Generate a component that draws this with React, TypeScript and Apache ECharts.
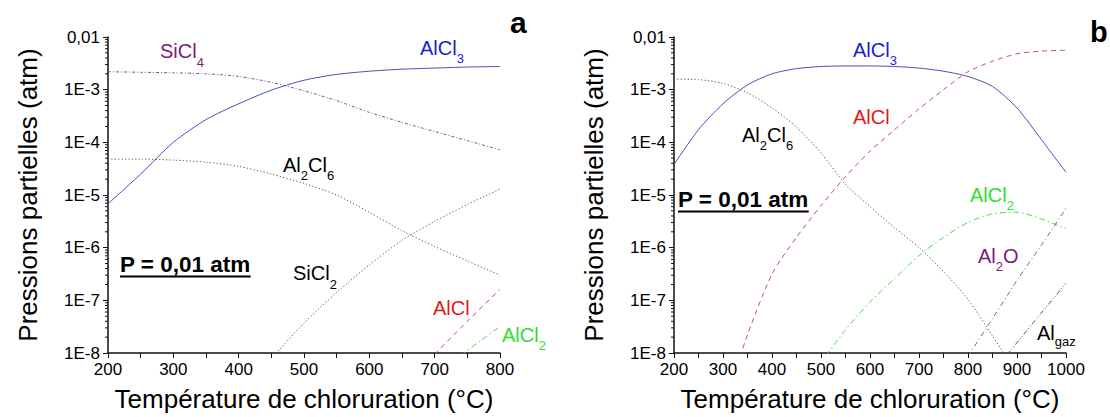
import React, { useEffect, useRef } from "react";
import * as echarts from "echarts";

const FONT = "'Liberation Sans', Arial, Helvetica, sans-serif";

// ---------- Panel a (200–800 °C) ----------
const tempsA = [200, 250, 300, 350, 400, 450, 500, 550, 600, 650, 700, 750, 800];
const alcl3A = [6.8e-6, 2.5e-5, 1.0e-4, 2.7e-4, 5.4e-4, 9.8e-4, 1.51e-3, 1.95e-3, 2.24e-3, 2.45e-3, 2.57e-3, 2.69e-3, 2.75e-3];
const sicl4A = [2.19e-3, 2.14e-3, 2.09e-3, 2.0e-3, 1.78e-3, 1.38e-3, 9.5e-4, 6.2e-4, 3.7e-4, 2.4e-4, 1.6e-4, 1.08e-4, 7.2e-5];
const al2cl6A = [4.8e-5, 4.8e-5, 4.6e-5, 4.2e-5, 3.5e-5, 2.5e-5, 1.66e-5, 1.0e-5, 4.7e-6, 2.1e-6, 1.05e-6, 5.6e-7, 3.0e-7];
const tempsSiCl2A = [450, 500, 550, 600, 650, 700, 750, 800];
const sicl2A = [7.8e-9, 3.7e-8, 1.41e-7, 4.7e-7, 1.38e-6, 3.16e-6, 6.6e-6, 1.29e-5];
const tempsAlClA = [700, 750, 800];
const alclA = [9.5e-9, 4.0e-8, 1.62e-7];
const tempsAlCl2A = [740, 770, 800];
const alcl2A = [8.9e-9, 1.7e-8, 3.2e-8];

// ---------- Panel b (200–1000 °C) ----------
const tempsB = [200, 250, 300, 350, 400, 450, 500, 550, 600, 650, 700, 750, 800, 850, 900, 950, 1000];
const alcl3B = [3.8e-5, 1.74e-4, 5.4e-4, 1.23e-3, 2.0e-3, 2.51e-3, 2.75e-3, 2.82e-3, 2.82e-3, 2.75e-3, 2.57e-3, 2.24e-3, 1.78e-3, 1.15e-3, 4.5e-4, 1.12e-4, 2.7e-5];
const tempsAl2Cl6B = [200, 250, 300, 350, 400, 450, 500, 550, 600, 650, 700, 750, 800, 850, 900];
const al2cl6B = [1.58e-3, 1.55e-3, 1.32e-3, 8.7e-4, 4.5e-4, 1.95e-4, 6.3e-5, 1.6e-5, 6.0e-6, 2.4e-6, 1.0e-6, 3.5e-7, 1.05e-7, 2.1e-8, 4.0e-9];
const tempsAlClB = [335, 350, 400, 450, 500, 550, 600, 650, 700, 750, 800, 850, 900, 950, 1000];
const alclB = [8.5e-9, 2.24e-8, 3.16e-7, 1.58e-6, 6.3e-6, 2.24e-5, 6.8e-5, 1.74e-4, 4.3e-4, 1.0e-3, 2.19e-3, 3.47e-3, 4.8e-3, 5.4e-3, 5.6e-3];
const tempsAlCl2B = [510, 550, 600, 650, 700, 750, 800, 850, 900, 950, 1000];
const alcl2B = [8.9e-9, 2.75e-8, 9.3e-8, 2.57e-7, 7.1e-7, 1.58e-6, 3.0e-6, 4.4e-6, 4.7e-6, 3.5e-6, 2.3e-6];
const tempsAl2OB = [800, 850, 900, 950, 1000];
const al2oB = [8.7e-9, 4.5e-8, 2.4e-7, 1.12e-6, 5.6e-6];
const tempsAlGazB = [880, 940, 1000];
const algazB = [9.3e-9, 4.5e-8, 2.1e-7];

// minor tick marks of the logarithmic pressure axis (2…9 × each decade)
const yMinorTicks = [
  2e-8, 3e-8, 4e-8, 5e-8, 6e-8, 7e-8, 8e-8, 9e-8,
  2e-7, 3e-7, 4e-7, 5e-7, 6e-7, 7e-7, 8e-7, 9e-7,
  2e-6, 3e-6, 4e-6, 5e-6, 6e-6, 7e-6, 8e-6, 9e-6,
  2e-5, 3e-5, 4e-5, 5e-5, 6e-5, 7e-5, 8e-5, 9e-5,
  2e-4, 3e-4, 4e-4, 5e-4, 6e-4, 7e-4, 8e-4, 9e-4,
  2e-3, 3e-3, 4e-3, 5e-3, 6e-3, 7e-3, 8e-3, 9e-3,
];

const yName = "Pressions partielles (atm)";
const xName = "Température de chloruration (°C)";
const pressureNote = "P = 0,01 atm";

const zip = (t: number[], v: number[]) => t.map((x, i) => [x, v[i]]);

const C_BLUE_LINE = "#4b4bc2";
const C_PURPLE_LINE = "#8e4a8e";
const C_GREY_LINE = "#555555";
const C_RED_LINE = "#c8505a";
const C_GREEN_LINE = "#44e044";
const C_AL2O_LINE = "#9a4aa8";

type Seg = { t: string; sub?: boolean };

export default function App() {
  const ref = useRef<HTMLDivElement>(null);
  useEffect(() => {
    if (!ref.current) return;
    const chart = echarts.init(ref.current, undefined, { renderer: "svg" });
    const ctx = document.createElement("canvas").getContext("2d")!;
    const measure = (text: string, size: number, weight = "normal") => {
      ctx.font = `${weight} ${size}px ${FONT}`;
      return ctx.measureText(text).width;
    };
    const graphics: any[] = [];
    const CENTER = 0.3465;
    const chem = (segs: Seg[], x: number, baseline: number, color: string, size = 20, subSize = 13, drop = 8) => {
      let cx = x;
      for (const s of segs) {
        const fs = s.sub ? subSize : size;
        const b = s.sub ? baseline + drop : baseline;
        graphics.push({
          type: "text",
          x: cx,
          y: b - CENTER * fs,
          silent: true,
          style: {
            text: s.t,
            fill: color,
            font: `${fs}px ${FONT}`,
            textAlign: "left",
            textVerticalAlign: "middle",
            verticalAlign: "middle",
          },
        });
        cx += measure(s.t, fs);
      }
    };
    const boldText = (t: string, x: number, baseline: number, size: number, underline = false) => {
      graphics.push({
        type: "text",
        x,
        y: baseline - CENTER * size,
        silent: true,
        style: {
          text: t,
          fill: "#000",
          font: `bold ${size}px ${FONT}`,
          textAlign: "left",
          textVerticalAlign: "middle",
          verticalAlign: "middle",
        },
      });
      if (underline) {
        const w = measure(t, size, "bold");
        graphics.push({
          type: "line",
          silent: true,
          shape: { x1: x, y1: baseline + 4.5, x2: x + w, y2: baseline + 4.5 },
          style: { stroke: "#000", lineWidth: 2 },
        });
      }
    };

    // Panel a labels
    chem([{ t: "SiCl" }, { t: "4", sub: true }], 160, 58, "#7b1a7b", 20, 13, 9);
    chem([{ t: "AlCl" }, { t: "3", sub: true }], 420, 55, "#1c1cd0");
    chem([{ t: "Al" }, { t: "2", sub: true }, { t: "Cl" }, { t: "6", sub: true }], 283, 172, "#000");
    chem([{ t: "SiCl" }, { t: "2", sub: true }], 293, 280, "#000", 20, 13, 9);
    chem([{ t: "AlCl" }], 433, 315, "#e01818");
    chem([{ t: "AlCl" }, { t: "2", sub: true }], 502, 342, "#2ee02e");
    boldText(pressureNote, 120, 272, 22.5, true);
    boldText("a", 510, 33, 30);

    // Panel b labels
    chem([{ t: "AlCl" }, { t: "3", sub: true }], 853, 57, "#1c1cd0");
    chem([{ t: "AlCl" }], 853, 124, "#e01818");
    chem([{ t: "Al" }, { t: "2", sub: true }, { t: "Cl" }, { t: "6", sub: true }], 742, 142, "#000");
    chem([{ t: "AlCl" }, { t: "2", sub: true }], 970, 202, "#2ee02e");
    chem([{ t: "Al" }, { t: "2", sub: true }, { t: "O" }], 978, 263, "#7b1a7b");
    chem([{ t: "Al" }, { t: "gaz", sub: true }], 1037, 340, "#000", 20, 13, 6);
    boldText(pressureNote, 678, 207, 22.5, true);
    boldText("b", 1090, 42, 29);

    const axisText = { fontSize: 17, fontFamily: FONT, color: "#000" };
    const nameText = { fontSize: 26, fontFamily: FONT, color: "#000" };
    const lineCol = "#111";

    const mkX = (gi: number, min: number, max: number) => ({
      type: "value",
      gridIndex: gi,
      min,
      max,
      interval: 100,
      name: xName,
      nameLocation: "middle",
      nameGap: 33,
      nameTextStyle: nameText,
      axisLine: { show: true, onZero: false, lineStyle: { color: lineCol, width: 1.5 } },
      axisTick: { show: true, length: 5, lineStyle: { color: lineCol } },
      minorTick: { show: true, splitNumber: 2, length: 5, lineStyle: { color: lineCol } },
      axisLabel: { ...axisText, margin: 8, formatter: (v: number) => String(v) },
      splitLine: { show: false },
      minorSplitLine: { show: false },
    });
    const mkY = (gi: number) => ({
      type: "log",
      logBase: 10,
      gridIndex: gi,
      min: 1e-8,
      max: 0.01,
      splitNumber: 6,
      name: yName,
      nameLocation: "middle",
      nameGap: 67,
      nameRotate: 90,
      nameTextStyle: nameText,
      axisLine: { show: true, onZero: false, lineStyle: { color: lineCol, width: 1.5 } },
      axisTick: { show: true, length: 5, lineStyle: { color: lineCol } },
      axisLabel: {
        ...axisText,
        margin: 8,
        formatter: (v: number) => {
          const e = Math.round(Math.log10(v));
          return e === -2 ? "0,01" : "1E" + e;
        },
      },
      splitLine: { show: false },
      minorSplitLine: { show: false },
    });

    const ser = (gi: number, data: number[][], color: string, type: any) => ({
      type: "line",
      xAxisIndex: gi,
      yAxisIndex: gi,
      data,
      showSymbol: false,
      symbol: "none",
      silent: true,
      clip: true,
      smooth: 0.25,
      lineStyle: { color, width: 1, type },
    });

    const minorTickSeries = (gi: number, xMin: number) => ({
      type: "custom",
      xAxisIndex: gi,
      yAxisIndex: gi,
      silent: true,
      clip: false,
      data: yMinorTicks.map((v) => [xMin, v]),
      renderItem: (_p: any, api: any) => {
        const pt = api.coord([api.value(0), api.value(1)]);
        return {
          type: "line",
          shape: { x1: pt[0] - 3, y1: pt[1], x2: pt[0], y2: pt[1] },
          style: { stroke: lineCol, lineWidth: 1 },
        };
      },
    });

    const DOT = [1.2, 2.2];
    const DASH = [5, 4];
    const DASHDOT = [6, 3, 1.5, 3];

    chart.setOption({
      animation: false,
      backgroundColor: "#ffffff",
      grid: [
        { left: 108, top: 37, width: 392, height: 318, containLabel: false },
        { left: 674, top: 37, width: 392, height: 318, containLabel: false },
      ],
      xAxis: [mkX(0, 200, 800), mkX(1, 200, 1000)],
      yAxis: [mkY(0), mkY(1)],
      series: [
        ser(0, zip(tempsA, alcl3A), C_BLUE_LINE, "solid"),
        ser(0, zip(tempsA, sicl4A), C_PURPLE_LINE, [3, 2, 1, 2]),
        ser(0, zip(tempsA, al2cl6A), C_GREY_LINE, DOT),
        ser(0, zip(tempsSiCl2A, sicl2A), C_GREY_LINE, DOT),
        ser(0, zip(tempsAlClA, alclA), C_RED_LINE, DASH),
        ser(0, zip(tempsAlCl2A, alcl2A), C_GREEN_LINE, DASHDOT),
        ser(1, zip(tempsB, alcl3B), C_BLUE_LINE, "solid"),
        ser(1, zip(tempsAl2Cl6B, al2cl6B), C_GREY_LINE, DOT),
        ser(1, zip(tempsAlClB, alclB), C_RED_LINE, DASH),
        ser(1, zip(tempsAlCl2B, alcl2B), C_GREEN_LINE, DASHDOT),
        ser(1, zip(tempsAl2OB, al2oB), C_AL2O_LINE, [5, 3, 1, 3]),
        ser(1, zip(tempsAlGazB, algazB), C_GREY_LINE, [5, 2, 1, 2, 1, 2]),
        minorTickSeries(0, 200),
        minorTickSeries(1, 200),
      ],
      graphic: graphics,
    });
    return () => chart.dispose();
  }, []);
  return (
    <div
      ref={ref}
      style={{ position: "fixed", left: 0, top: 0, width: 1110, height: 417, background: "#fff" }}
    />
  );
}
